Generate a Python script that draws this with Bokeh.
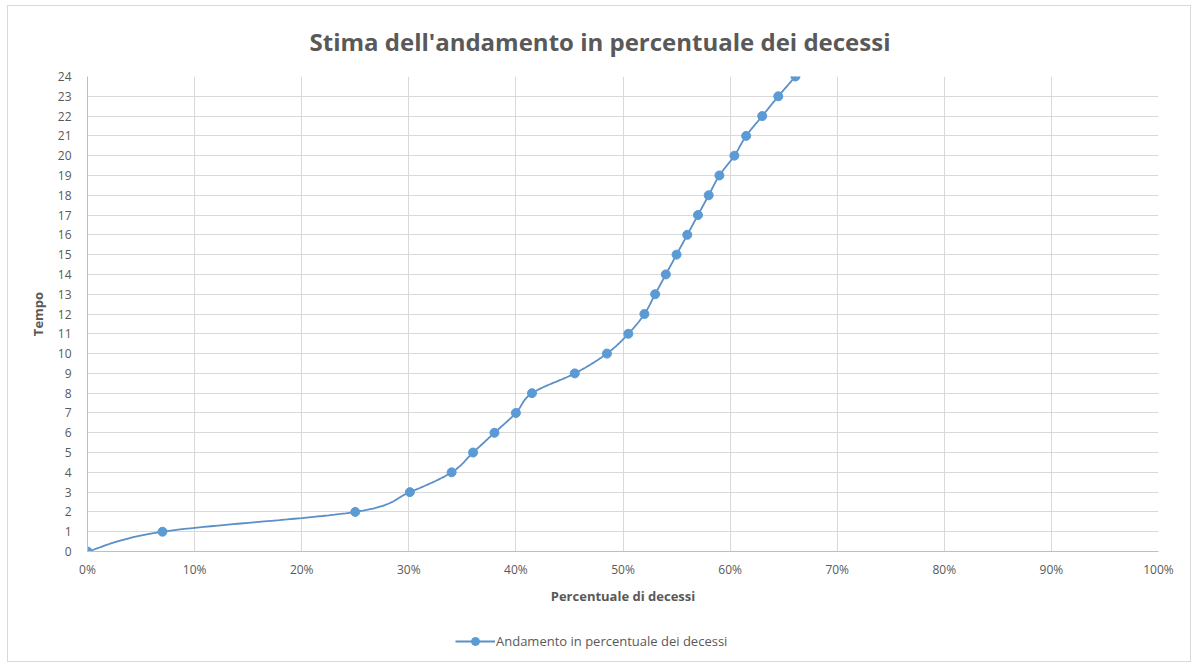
import numpy as np
from bokeh.plotting import figure
from bokeh.layouts import column
from bokeh.models import (FixedTicker, NumeralTickFormatter, Legend, LegendItem,
                          Range1d, Title)
from bokeh.embed import file_html
from bokeh.resources import INLINE

# Data
tempo = [0, 1, 2, 3, 4, 5, 6, 7, 8, 9, 10, 11, 12, 13, 14, 15, 16, 17, 18, 19, 20, 21, 22, 23, 24]
percentuale = [0.0, 0.07, 0.25, 0.301, 0.34, 0.36, 0.38, 0.40, 0.415, 0.455, 0.485, 0.505, 0.52,
               0.53, 0.54, 0.55, 0.56, 0.57, 0.58, 0.59, 0.604, 0.615, 0.63, 0.645, 0.661]
x_ticks = [0, 0.1, 0.2, 0.3, 0.4, 0.5, 0.6, 0.7, 0.8, 0.9, 1.0]
y_ticks = list(range(0, 25))
title_text = "Stima dell'andamento in percentuale dei decessi"
series_name = "Andamento in percentuale dei decessi"

FONT = "Open Sans"
BLUE = "#5B9BD5"
LINE = "#5A8FC8"
GRAY_TEXT = "#595959"

# Smoothed line (Catmull-Rom, like Excel's smoothed line)
px = np.array(percentuale, dtype=float)
py = np.array(tempo, dtype=float)
sx, sy = [], []
n = len(px)
for i in range(n - 1):
    p0 = max(i - 1, 0); p3 = min(i + 2, n - 1)
    x0, y0 = px[i], py[i]
    x3, y3 = px[i + 1], py[i + 1]
    c1x = x0 + (px[i + 1] - px[p0]) / 6.0
    c1y = y0 + (py[i + 1] - py[p0]) / 6.0
    c2x = x3 - (px[p3] - px[i]) / 6.0
    c2y = y3 - (py[p3] - py[i]) / 6.0
    t = np.linspace(0, 1, 30)
    bx = (1 - t) ** 3 * x0 + 3 * (1 - t) ** 2 * t * c1x + 3 * (1 - t) * t ** 2 * c2x + t ** 3 * x3
    by = (1 - t) ** 3 * y0 + 3 * (1 - t) ** 2 * t * c1y + 3 * (1 - t) * t ** 2 * c2y + t ** 3 * y3
    sx.extend(bx.tolist()); sy.extend(by.tolist())

p = figure(width=1182, height=625, output_backend="svg", toolbar_location=None,
           x_range=Range1d(0, 1), y_range=Range1d(0, 24),
           min_border_left=79, min_border_right=32, min_border_top=75, min_border_bottom=75,
           background_fill_color="white", border_fill_color="white", border_fill_alpha=0)
p.outline_line_color = None
p.styles = {"margin-top": "-5px"}

p.title = Title(text=title_text, align="left", text_font=FONT, text_font_size="24px",
                text_font_style="bold", text_color=GRAY_TEXT, standoff=38, offset=222)

line_r = p.line(sx, sy, line_color=LINE, line_width=1.8)
pts = p.scatter(percentuale, tempo, size=9, fill_color=BLUE, line_color=BLUE)

# Axes
p.xaxis.ticker = FixedTicker(ticks=x_ticks)
p.xaxis.formatter = NumeralTickFormatter(format="0%")
p.yaxis.ticker = FixedTicker(ticks=y_ticks)
for ax in (p.xaxis[0], p.yaxis[0]):
    ax.axis_line_color = "#BFBFBF"
    ax.major_tick_line_color = None
    ax.minor_tick_line_color = None
    ax.major_label_text_font = FONT
    ax.major_label_text_font_size = "12px"
    ax.major_label_text_color = GRAY_TEXT
    ax.axis_label_text_font = FONT
    ax.axis_label_text_font_size = "13px"
    ax.axis_label_text_font_style = "bold"
    ax.axis_label_text_color = GRAY_TEXT
p.xaxis.major_label_standoff = 3
p.yaxis.major_label_standoff = 10
p.xaxis.axis_label = "Percentuale di decessi"
p.yaxis.axis_label = "Tempo"
p.xaxis.axis_label_standoff = 6
p.yaxis.axis_label_standoff = 8

p.xgrid.ticker = FixedTicker(ticks=x_ticks)
p.ygrid.ticker = FixedTicker(ticks=y_ticks)
p.xgrid.grid_line_color = "#D9D9D9"
p.ygrid.grid_line_color = "#D9D9D9"

# Legend in a small companion figure below the chart (its glyphs lie outside its view)
lg = figure(width=1182, height=35, output_backend="svg", toolbar_location=None,
            x_range=Range1d(10, 11), y_range=Range1d(100, 101),
            x_axis_location=None, y_axis_location=None,
            min_border=0, background_fill_color="white", border_fill_color="white")
lg.outline_line_color = None
lg.grid.visible = False
lg_line = lg.line(percentuale, tempo, line_color=LINE, line_width=1.8)
lg_pts = lg.scatter(percentuale, tempo, size=8, fill_color=BLUE, line_color=BLUE)
legend = Legend(items=[LegendItem(label=series_name, renderers=[lg_line, lg_pts])],
                location=(368, 10), orientation="horizontal",
                label_text_font=FONT, label_text_font_size="13px", label_text_color=GRAY_TEXT,
                border_line_color=None, background_fill_alpha=0, margin=0, padding=0,
                glyph_width=40, label_standoff=1)
lg.add_layout(legend)

layout = column(p, lg, spacing=0,
                styles={"border": "1px solid #D9D9D9", "margin-left": "7px", "margin-top": "5px"})

open("out.html", "w").write(file_html(layout, INLINE))
